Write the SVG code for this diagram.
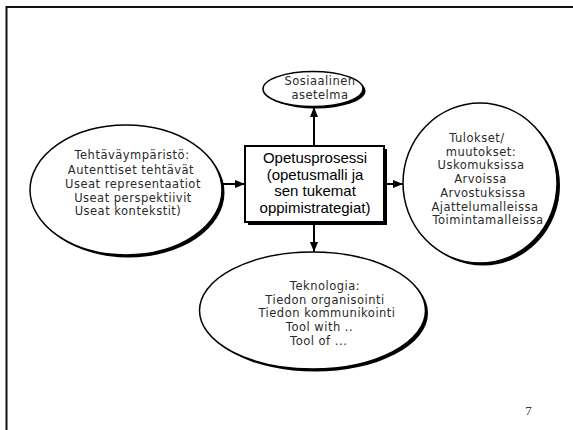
<svg xmlns="http://www.w3.org/2000/svg" width="573" height="430" viewBox="0 0 573 430">
<defs>
<style>
.sh{fill:#000;stroke:none}
.el{fill:#fff;stroke:#000;stroke-width:1.5}
.bx{fill:#fff;stroke:#000;stroke-width:2}
.t{font-family:"DejaVu Sans",Verdana,sans-serif;font-size:11.5px;letter-spacing:0.5px;fill:#2a2a2a;text-anchor:middle}
.c{font-family:"Liberation Sans",Arial,sans-serif;font-size:15px;fill:#000;text-anchor:middle}
.ln{stroke:#000;stroke-width:2;fill:none}
</style>
<marker id="ah" viewBox="0 0 10 8" refX="10" refY="4" markerWidth="10" markerHeight="8" markerUnits="userSpaceOnUse" orient="auto">
<path d="M0,0 L10,4 L0,8 Z" fill="#000"/>
</marker>
</defs>
<rect width="573" height="430" fill="#fff"/>
<path d="M6.5,430 V7 H573" fill="none" stroke="#111" stroke-width="2"/>

<g id="connectors">
<line class="ln" x1="314" y1="146" x2="314" y2="107" marker-end="url(#ah)"/>
<line class="ln" x1="222" y1="184" x2="245" y2="184" marker-end="url(#ah)"/>
<line class="ln" x1="384" y1="184" x2="403" y2="184" marker-end="url(#ah)"/>
<line class="ln" x1="314" y1="222" x2="314" y2="252" marker-end="url(#ah)"/>
</g>

<g id="sosiaalinen">
<ellipse class="sh" cx="315.5" cy="91" rx="50" ry="17.5"/>
<ellipse class="el" cx="313" cy="89" rx="50" ry="17.5"/>
<text class="t" x="320" y="85">Sosiaalinen</text>
<text class="t" x="320" y="99">asetelma</text>
</g>

<g id="tehtavaymparisto">
<ellipse class="sh" cx="128.5" cy="192.5" rx="96" ry="65"/>
<ellipse class="el" cx="126" cy="190" rx="96" ry="65"/>
<text class="t" x="132" y="159">Tehtäväympäristö:</text>
<text class="t" x="131" y="174">Autenttiset tehtävät</text>
<text class="t" x="133" y="188">Useat representaatiot</text>
<text class="t" x="133" y="202">Useat perspektiivit</text>
<text class="t" x="128" y="215">Useat kontekstit)</text>
</g>

<g id="opetusprosessi">
<rect class="sh" x="248" y="149" width="139" height="76"/>
<rect class="bx" x="245" y="146" width="139" height="76"/>
<text class="c" x="315" y="163">Opetusprosessi</text>
<text class="c" x="315" y="179.5">(opetusmalli ja</text>
<text class="c" x="315" y="196">sen tukemat</text>
<text class="c" x="315" y="212.5">oppimistrategiat)</text>
</g>

<g id="tulokset">
<ellipse class="sh" cx="483" cy="185.5" rx="77" ry="80"/>
<ellipse class="el" cx="480" cy="183" rx="77" ry="80"/>
<text class="t" x="477" y="142">Tulokset/</text>
<text class="t" x="481" y="155.7">muutokset:</text>
<text class="t" x="481" y="169.4">Uskomuksissa</text>
<text class="t" x="480.5" y="183.1">Arvoissa</text>
<text class="t" x="483" y="196.8">Arvostuksissa</text>
<text class="t" x="485" y="210.5">Ajattelumalleissa</text>
<text class="t" x="488" y="224.2">Toimintamalleissa</text>
</g>

<g id="teknologia">
<ellipse class="sh" cx="315" cy="313" rx="113" ry="58.5"/>
<ellipse class="el" cx="312.5" cy="310.5" rx="113" ry="58.5"/>
<text class="t" x="325" y="290">Teknologia:</text>
<text class="t" x="325" y="303.7">Tiedon organisointi</text>
<text class="t" x="327" y="317.4">Tiedon kommunikointi</text>
<text class="t" x="319.5" y="331.1">Tool with ..</text>
<text class="t" x="318.7" y="344.8">Tool of ...</text>
</g>

<text x="528.5" y="415" font-family="Liberation Serif,Times New Roman,serif" font-size="13" fill="#333" text-anchor="middle">7</text>
</svg>
